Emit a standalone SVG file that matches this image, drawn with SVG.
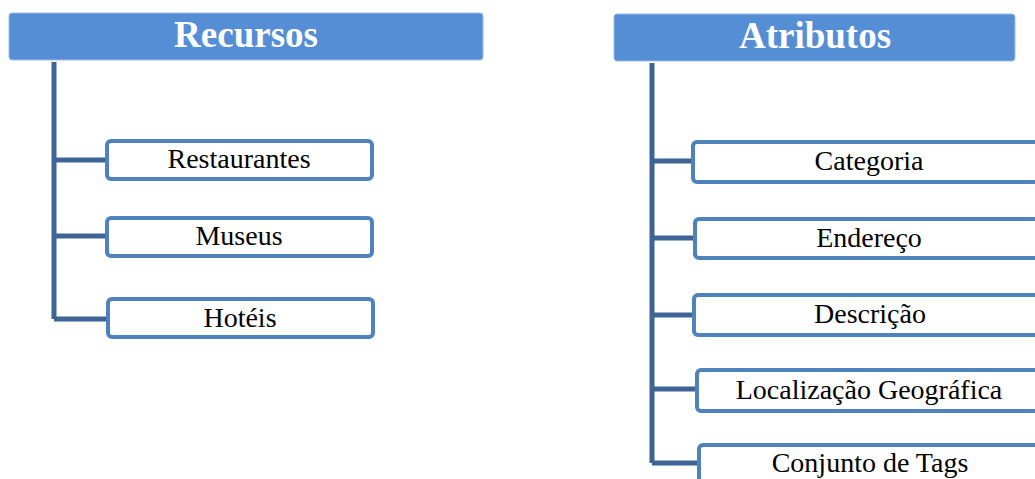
<svg xmlns="http://www.w3.org/2000/svg" width="1035" height="479" viewBox="0 0 1035 479">
  <style>
    .hdr { fill: #558ED5; stroke: #9DBCE6; stroke-width: 1; }
    .hdr-text { font-family: "Liberation Serif", serif; font-weight: bold; font-size: 37px; fill: #FFFFFF; text-anchor: middle; }
    .box { fill: #FFFFFF; stroke: #4F81BD; stroke-width: 4; }
    .box-text { font-family: "Liberation Serif", serif; font-size: 28px; fill: #000000; text-anchor: middle; }
    .link { fill: none; stroke: #3E6496; stroke-width: 5; stroke-linejoin: miter; }
  </style>

  <!-- tree connectors -->
  <g id="connectors">
    <path class="link" d="M54,62 V319 M54,160 H106 M54,236 H106 M54,319 H106"/>
    <path class="link" d="M652,63 V463 M652,161 H693 M652,238 H695 M652,315 H694 M652,389 H697 M652,463 H699"/>
  </g>

  <!-- left column -->
  <g id="recursos">
    <rect class="hdr" x="9" y="13" width="474" height="47" rx="3"/>
    <text class="hdr-text" x="246" y="47">Recursos</text>
  </g>
  <g id="restaurantes">
    <rect class="box" x="107" y="141" width="265" height="38" rx="4"/>
    <text class="box-text" x="239" y="168">Restaurantes</text>
  </g>
  <g id="museus">
    <rect class="box" x="107" y="218" width="265" height="38" rx="4"/>
    <text class="box-text" x="239" y="245">Museus</text>
  </g>
  <g id="hoteis">
    <rect class="box" x="108" y="299" width="265" height="38" rx="4"/>
    <text class="box-text" x="240" y="327">Hotéis</text>
  </g>

  <!-- right column -->
  <g id="atributos">
    <rect class="hdr" x="614" y="14" width="401" height="47" rx="3"/>
    <text class="hdr-text" x="815" y="48">Atributos</text>
  </g>
  <g id="categoria">
    <rect class="box" x="693" y="142" width="360" height="40" rx="4"/>
    <text class="box-text" x="869" y="170">Categoria</text>
  </g>
  <g id="endereco">
    <rect class="box" x="695" y="219" width="360" height="39" rx="4"/>
    <text class="box-text" x="869" y="247">Endereço</text>
  </g>
  <g id="descricao">
    <rect class="box" x="694" y="295" width="360" height="40" rx="4"/>
    <text class="box-text" x="870" y="323">Descrição</text>
  </g>
  <g id="localizacao">
    <rect class="box" x="697" y="370" width="360" height="41" rx="4"/>
    <text class="box-text" x="869" y="399">Localização Geográfica</text>
  </g>
  <g id="conjunto">
    <rect class="box" x="699" y="445" width="360" height="45" rx="4"/>
    <text class="box-text" x="870" y="472">Conjunto de Tags</text>
  </g>
</svg>
